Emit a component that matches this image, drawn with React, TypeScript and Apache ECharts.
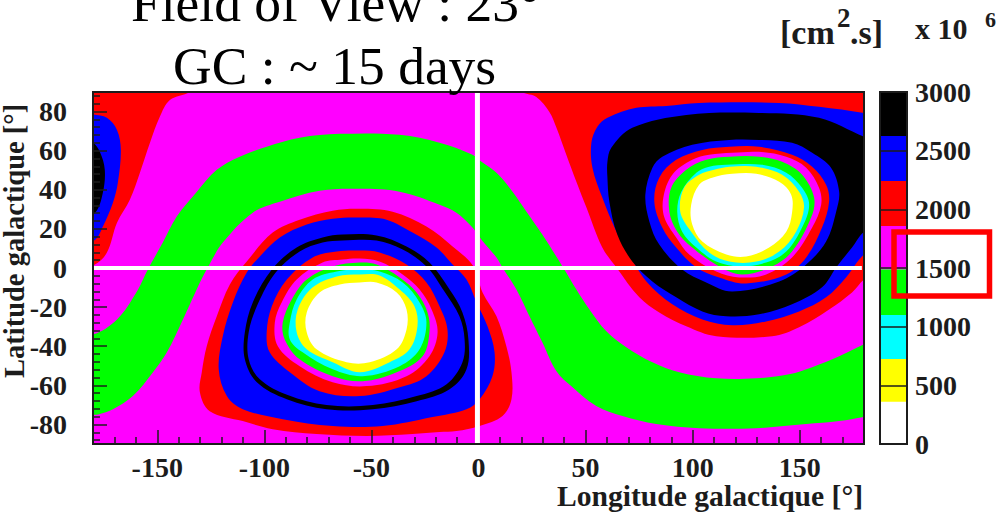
import React, { useEffect, useRef } from "react";
import * as echarts from "echarts";

type P = [number, number];

const MAGENTA = "#ff00ff", GREEN = "#00ff00", RED = "#ff0000", BLUE = "#0000ff";
const BLACK = "#000000", CYAN = "#00ffff", YELLOW = "#ffff00", WHITE = "#ffffff";
const SERIF = "'Liberation Serif'";
const INK = "#1c1c1c";

const lonMajor = [-150, -100, -50, 0, 50, 100, 150];
const lonMinor = [-170, -160, -140, -130, -120, -110, -90, -80, -70, -60, -40, -30, -20, -10, 10, 20, 30, 40, 60, 70, 80, 90, 110, 120, 130, 140, 160, 170];
const latMajor = [-80, -60, -40, -20, 0, 20, 40, 60, 80];
const latMinor = [-88, -84, -76, -72, -68, -64, -56, -52, -48, -44, -36, -32, -28, -24, -16, -12, -8, -4, 4, 8, 12, 16, 24, 28, 32, 36, 44, 48, 52, 56, 64, 68, 72, 76, 84, 88];

const barLevels: [number, number, string][] = [
  [0, 360, WHITE], [360, 724, YELLOW], [724, 1100, CYAN], [1100, 1490, GREEN],
  [1490, 1858, MAGENTA], [1858, 2241, RED], [2241, 2625, BLUE], [2625, 3000, BLACK],
];

const all: P[] = [[-180, -90], [180, -90], [180, 90], [-180, 90]];

const greenBand: P[] = [
  [-186, -31], [-180, -33.9], [-168.8, -26.3], [-159.5, -12], [-154.4, -0.8], [-147.4, 13], [-140.9, 26.3], [-131.5, 39], [-122.2, 50.2], [-111.5, 56.9], [-98.9, 62], [-83.5, 66.6], [-64.8, 68.6], [-36.8, 68.1], [-18.2, 64], [-2.8, 57.9], [1.4, 54.3], [8.4, 48.7], [15.9, 39], [22.4, 28.8], [29.8, 17.1], [39.2, 0.8], [45.7, -11], [51.8, -21.2], [59.7, -32.4], [69, -40.5], [81.2, -48.2], [93.7, -53.3], [111, -56.4], [129.7, -56.4], [145, -54.3], [155.8, -50.7], [168.4, -45.1], [180, -39], [186, -36],
  [186, -75], [180, -76.2], [168.4, -78.3], [153, -79.8], [129.7, -81.9], [103, -81.9], [83, -79.8], [67.2, -75.7], [55, -70.6], [43.8, -60.9], [36.4, -52.8], [29.8, -38], [23.8, -24.7], [17.7, -11], [11.2, 0.3], [8.4, 5.4], [1.4, 14.5], [-2.8, 20.7], [-10.3, 28.3], [-18.2, 32.4], [-36.8, 39], [-55.5, 40.5], [-74.2, 39.5], [-92.8, 33.9], [-105.4, 28.3], [-119.4, 13], [-126.4, 0.3], [-130.1, -7.4], [-138, -26.3], [-145.5, -43.1], [-152, -53.3], [-161.4, -65.5], [-170.7, -72.2], [-176.8, -74.7], [-180, -75.2], [-186, -76],
];

const redTopLeft: P[] = [[-186, 96], [-130, 96], [-134.8, 90], [-144.1, 85.9], [-148.8, 77.3], [-153.4, 64], [-158.1, 48.7], [-162.8, 34.9], [-168.8, 23.2], [-173.5, 7.9], [-179.1, 1.8], [-186, 0]];
const blueTopLeft: P[] = [[-186, 79], [-180, 78.5], [-173.5, 76.8], [-168.8, 70.6], [-167, 60.4], [-168.4, 43.6], [-170.7, 33.4], [-175.4, 21.2], [-179, 14.5], [-186, 13]];
const blackTopLeft: P[] = [[-186, 66], [-180, 64], [-176.8, 59.4], [-174.5, 50.2], [-175.4, 38.5], [-179, 28.3], [-186, 26]];

const redRight: P[] = [[16, 96], [20.5, 90], [27, 87.5], [33.1, 79.8], [36.4, 71.7], [41, 57.9], [45.7, 44.1], [50.4, 30.9], [57.8, 10.5], [64.4, 0.3], [75.1, -15], [84.4, -22.7], [97, -29.8], [111, -34.9], [137.1, -34.9], [149.7, -30.3], [163.7, -21.2], [174.4, -12.5], [180, -5.9], [186, -2], [186, 96]];
const blueRight: P[] = [[52.7, 64], [55.5, 72.2], [60.2, 76.8], [73.7, 81.9], [87.7, 82.9], [103, 84.4], [140.4, 84.4], [159, 82.4], [180, 79.3], [186, 78], [186, 9], [180, 6.9], [171.6, -4.8], [162.3, -15], [149.7, -22.2], [134.3, -27.3], [118.5, -29.3], [104.5, -26.3], [90.5, -18.6], [78.4, -6.9], [70.4, 6.9], [64.4, 18.6], [57.8, 36], [53.2, 51.3]];
const blackRight: P[] = [[60.2, 54.3], [62, 61.5], [71.8, 71.7], [97, 78.3], [131, 79.3], [159, 76.8], [180, 67.1], [186, 65], [186, 21], [180, 18.6], [174.4, 10.5], [167, 0.3], [160.4, -9.9], [146.4, -18.6], [131, -23.7], [115.7, -24.7], [104.5, -22.2], [92.3, -15], [81.2, -6.9], [71.8, 3.3], [64.8, 17.1], [61.1, 33.9], [60.2, 46.2]];
const blueInnerRight: P[] = [[117.1, 65.5], [131, 65.5], [146.4, 64], [155.8, 58.9], [164.6, 51.3], [168.4, 39], [167, 28.8], [162.3, 13.5], [153, 1.8], [140.4, -6.9], [118.5, -12], [106.3, -7.4], [95.1, -0.8], [84.4, 12], [79.8, 23.7], [77.9, 37.5], [81.2, 51.3], [85.8, 56.9], [99.8, 63]];
const redInnerRight: P[] = [[117.1, 62], [131, 62], [146.4, 57.9], [155.8, 51.8], [162.3, 42.6], [163.7, 33.9], [160.4, 20.7], [153, 5.4], [143.7, -3.3], [125, -7.9], [112.4, -4.8], [101.7, 0.3], [92.3, 10.5], [85.8, 20.7], [82.1, 33.9], [84.4, 46.2], [92.3, 55.3], [104.5, 60.4]];
const magentaInnerRight: P[] = [[118.5, 58.9], [131, 59.4], [143.7, 56.9], [153, 51.3], [159, 41], [160, 32.4], [155.8, 20.7], [146.4, 5.4], [134.3, -3.3], [121.7, -4.8], [111, -1.8], [98.4, 6.9], [92.3, 15.6], [86.8, 25.8], [86.3, 36], [90.5, 47.7], [99.8, 55.3], [107.7, 57.9]];
const greenInnerRight: P[] = [[117.1, 56.9], [131, 56.9], [141.8, 54.3], [151.1, 47.7], [156.7, 36], [155.3, 25.8], [146.4, 8.4], [137.1, 0.8], [123.1, -3.3], [112.4, 0.8], [99.8, 10.5], [92.8, 18.6], [89.1, 28.8], [90, 41], [97, 50.2], [106.3, 55.3]];
const cyanRight: P[] = [[115.7, 52.8], [132.5, 52.8], [143.7, 48.7], [151.1, 41], [154.4, 32.4], [151.1, 20.7], [143.7, 8.4], [134.3, 2.8], [121.7, 0.8], [111, 3.3], [101.7, 10.5], [95.1, 18.6], [92.8, 28.8], [94.7, 39], [101.7, 48.7], [107.7, 51.8]];
const yellowRight: P[] = [[117.1, 51.8], [129.7, 51.8], [141.8, 47.7], [149.7, 39], [152, 30.9], [148.3, 18.6], [140.4, 8.4], [129.7, 3.3], [117.1, 3.3], [107.7, 7.9], [99.3, 18.6], [94.2, 28.8], [96, 41], [103, 47.7], [110, 50.2]];
const whiteRight: P[] = [[118.5, 48.2], [129.7, 48.2], [140.4, 44.1], [146, 37.5], [146.4, 28.3], [143.7, 18.6], [135.7, 10.5], [125, 5.9], [115.7, 6.9], [104.5, 13.5], [99.8, 22.2], [99.3, 32.4], [103, 42.6], [109.1, 46.2]];

const redLeft: P[] = [[-55.5, 30.3], [-40.1, 28.8], [-24.3, 21.2], [-12.1, 11], [-2.3, 0.8], [1.9, -12.5], [8.4, -24.7], [13, -40], [15.4, -53.3], [15.4, -67.1], [11.2, -75.7], [0.5, -80.8], [-10.3, -83.4], [-18.2, -83.9], [-30.8, -84.9], [-52.2, -85.9], [-75.6, -84.9], [-96.1, -82.4], [-110.1, -78.3], [-125.5, -73.2], [-130.1, -63.5], [-129.2, -53.3], [-126.9, -40], [-122.2, -24.7], [-116.1, -8.4], [-108.2, 3.3], [-96.1, 18.1], [-83.5, 24.7], [-68.1, 29.3]];
const blueLeft: P[] = [[-55.5, 25.8], [-42.9, 24.7], [-30.8, 18.1], [-19.6, 10.5], [-12.1, 1.8], [-5.6, -5.9], [-0.9, -17.6], [4.2, -29.8], [7.5, -43.1], [6.5, -55.3], [0.5, -67.1], [-5.6, -72.2], [-21.5, -76.2], [-44.8, -80.8], [-68.1, -80.8], [-91.4, -77.3], [-110.1, -72.2], [-117.5, -65.5], [-121.3, -51.8], [-119.4, -34.9], [-114.7, -17.6], [-108.2, -2.3], [-102.1, 5.9], [-92.8, 15.6], [-80.2, 22.2], [-68.1, 25.2]];
const blackRingLeft: P[] = [[-63.4, 17.1], [-47.6, 16.6], [-33.6, 11], [-22.9, 2.8], [-13.5, -11], [-7.5, -22.7], [-4.7, -36.5], [-5.6, -51.8], [-13.5, -62], [-28.9, -68.1], [-49.4, -72.2], [-70.9, -72.2], [-89.5, -67.1], [-103.5, -58.4], [-109.1, -46.7], [-109.1, -32.9], [-105.4, -17.6], [-96.5, -0.8], [-84.9, 10.5], [-72.8, 15.6]];
const blueRingLeft: P[] = [[-63.4, 14], [-47.6, 14], [-35.4, 9.4], [-24.3, 0.8], [-15.9, -12], [-8.9, -24.7], [-6.5, -36.5], [-7.5, -48.2], [-14.9, -59.4], [-28.9, -65.5], [-49.4, -70.1], [-70.9, -70.1], [-89.1, -65], [-102.1, -56.9], [-107.3, -46.7], [-107.3, -32.9], [-103.1, -18.6], [-94.7, -2.3], [-83.5, 8.4], [-72.8, 13]];
const redInnerLeft: P[] = [[-55.5, 8.9], [-46.2, 7.9], [-33.6, 1.8], [-24.3, -7.4], [-18.2, -19.6], [-14.5, -31.4], [-15.9, -43.1], [-24.3, -55.3], [-36.8, -61], [-55.5, -65.5], [-74.2, -63], [-88.1, -53.3], [-97.5, -43.1], [-98.9, -32.9], [-96.5, -19.6], [-89.5, -5.9], [-77.4, 5.4], [-66.2, 8.4]];
const magentaInnerLeft: P[] = [[-55.5, 4.8], [-46.2, 3.3], [-35.4, -3.3], [-27.5, -11], [-21.9, -21.2], [-19.1, -32.9], [-22.9, -45.1], [-33.6, -55.3], [-52.2, -60.4], [-68.1, -58.4], [-83.5, -50.2], [-93.7, -40], [-95.1, -27.8], [-91.9, -17.6], [-84.9, -5.9], [-72.8, 2.8], [-63.4, 4.3]];
const greenInnerLeft: P[] = [[-55.5, 2.8], [-47.6, 1.8], [-36.8, -4.8], [-28.9, -12.5], [-23.8, -22.7], [-22.9, -32.9], [-26.1, -45.1], [-38.2, -53.3], [-54.1, -57.9], [-68.1, -55.3], [-83.5, -46.7], [-90.5, -36.5], [-91.4, -27.8], [-87.2, -16.1], [-80.2, -5.9], [-68.1, 0.8]];
const cyanLeft: P[] = [[-55.5, -0.8], [-46.2, -1.8], [-35.4, -7.4], [-27.5, -17.6], [-24.3, -27.8], [-27.5, -41.6], [-36.8, -50.2], [-54.1, -55.3], [-68.1, -51.8], [-82.1, -43.1], [-88.1, -36.5], [-88.1, -27.8], [-84.9, -16.1], [-77.4, -5.9], [-66.2, -1.8]];
const yellowLeft: P[] = [[-55.5, -3.3], [-46.2, -3.8], [-36.8, -11], [-29.9, -19.6], [-28.5, -29.8], [-32.2, -41.6], [-41.5, -48.2], [-55.5, -53.3], [-68.1, -48.2], [-80.2, -41.6], [-84.9, -32.9], [-84.4, -21.2], [-77.4, -9.9], [-66.2, -4.3]];
const whiteLeft: P[] = [[-55.5, -7.4], [-47.6, -7.4], [-38.2, -12.5], [-33.6, -21.2], [-33.6, -31.4], [-38.2, -41.6], [-50.8, -48.2], [-61.6, -48.2], [-75.6, -41.6], [-80.2, -32.9], [-80.2, -22.7], [-74.2, -12.5], [-64.8, -8.4]];

const regions: [P[], string][] = [
  [all, MAGENTA], [greenBand, GREEN],
  [redTopLeft, RED], [blueTopLeft, BLUE], [blackTopLeft, BLACK],
  [redRight, RED], [blueRight, BLUE], [blackRight, BLACK], [blueInnerRight, BLUE], [redInnerRight, RED], [magentaInnerRight, MAGENTA], [greenInnerRight, GREEN], [cyanRight, CYAN], [yellowRight, YELLOW], [whiteRight, WHITE],
  [redLeft, RED], [blueLeft, BLUE], [blackRingLeft, BLACK], [blueRingLeft, BLUE], [redInnerLeft, RED], [magentaInnerLeft, MAGENTA], [greenInnerLeft, GREEN], [cyanLeft, CYAN], [yellowLeft, YELLOW], [whiteLeft, WHITE],
];

const equator: P[] = [[-180, 0], [179, 0]];
const meridian: P[] = [[-0.5, -90], [-0.5, 90]];

const label = { fontFamily: SERIF, fontWeight: "bold" as const, color: INK };

function txt(text: string, x: number, y: number, size: number, bold = true, extra: any = {}) {
  return {
    type: "text", x, y, z: 50, silent: true, ...extra,
    style: { text, fontFamily: SERIF, fontSize: size, fontWeight: bold ? "bold" : "normal", fill: bold ? INK : "#000" },
  };
}

function buildOption() {
  const tickLine = { color: INK, width: 1.5 };
  const hiddenLine = { show: false, onZero: false };
  const plain = (v: number) => String(v);
  return {
    animation: false,
    backgroundColor: "#fff",
    grid: [
      { left: 93, top: 92, width: 771, height: 352 },
      { left: 880, top: 92, width: 27, height: 352 },
    ],
    xAxis: [
      { type: "value", gridIndex: 0, min: -180, max: 180, position: "bottom", z: 10, axisLine: hiddenLine, splitLine: { show: false },
        axisTick: { show: true, inside: true, length: 14, lineStyle: tickLine, customValues: lonMajor.filter((v) => v !== 0) },
        axisLabel: { ...label, fontSize: 28, margin: 9, customValues: lonMajor, formatter: plain } },
      { type: "value", gridIndex: 0, min: -180, max: 180, position: "bottom", z: 10, axisLine: hiddenLine, splitLine: { show: false },
        axisTick: { show: true, inside: true, length: 7, lineStyle: tickLine, customValues: lonMinor }, axisLabel: { show: false } },
      { type: "value", gridIndex: 1, min: 0, max: 1, show: false },
    ],
    yAxis: [
      { type: "value", gridIndex: 0, min: -90, max: 90, position: "left", z: 10, axisLine: hiddenLine, splitLine: { show: false },
        axisTick: { show: true, inside: true, length: 14, lineStyle: tickLine, customValues: latMajor.filter((v) => v !== 0) },
        axisLabel: { ...label, fontSize: 28, margin: 26, customValues: latMajor, formatter: plain } },
      { type: "value", gridIndex: 0, min: -90, max: 90, position: "left", z: 10, axisLine: hiddenLine, splitLine: { show: false },
        axisTick: { show: true, inside: true, length: 7, lineStyle: tickLine, customValues: latMinor }, axisLabel: { show: false } },
      { type: "value", gridIndex: 1, min: 0, max: 3000, interval: 500, position: "right", z: 10, axisLine: hiddenLine, splitLine: { show: false },
        axisTick: { show: true, inside: true, length: 27, lineStyle: tickLine },
        axisLabel: { ...label, fontSize: 28, margin: 8, formatter: plain } },
    ],
    series: [
      {
        type: "custom", xAxisIndex: 0, yAxisIndex: 0, clip: true, silent: true, z: 1,
        data: regions.map((_, i) => [i]),
        renderItem: (params: any, api: any) => {
          const [points, fill] = regions[params.dataIndex];
          return {
            type: "polygon",
            shape: { points: points.map((p) => api.coord(p)), smooth: points === all ? 0 : 0.35 },
            style: { fill },
          };
        },
      },
      {
        type: "custom", xAxisIndex: 2, yAxisIndex: 2, clip: true, silent: true, z: 1,
        data: barLevels.map((l, i) => [i, l[0], l[1]]),
        renderItem: (params: any, api: any) => {
          const [lo, hi, fill] = barLevels[params.dataIndex];
          const a = api.coord([0, hi]);
          const b = api.coord([1, lo]);
          return { type: "rect", shape: { x: a[0], y: a[1], width: b[0] - a[0], height: b[1] - a[1] }, style: { fill } };
        },
      },
      { type: "line", xAxisIndex: 0, yAxisIndex: 0, data: equator, showSymbol: false, silent: true, z: 3, lineStyle: { color: WHITE, width: 4 } },
      { type: "line", xAxisIndex: 0, yAxisIndex: 0, data: meridian, showSymbol: false, silent: true, z: 3, lineStyle: { color: WHITE, width: 5 } },
    ],
    graphic: [
      { type: "rect", z: 40, silent: true, shape: { x: 93, y: 92, width: 771, height: 352 }, style: { fill: "none", stroke: INK, lineWidth: 2 } },
      { type: "rect", z: 40, silent: true, shape: { x: 880, y: 92, width: 27, height: 352 }, style: { fill: "none", stroke: INK, lineWidth: 2 } },
      { type: "rect", z: 45, silent: true, shape: { x: 894, y: 232, width: 95.5, height: 64 }, style: { fill: "none", stroke: "#ff0000", lineWidth: 5.5 } },
      txt("Field of View : 23°", 131, -24, 53.5, false),
      txt("GC : ~ 15 days", 173, 39, 53.5, false),
      txt("[cm", 780, 15, 34),
      txt("2", 837, 4, 27),
      txt(".s]", 850, 15, 34),
      txt("x 10", 915, 13, 30),
      txt("6", 985, 8, 22),
      txt("Longitude galactique [°]", 557, 481, 29.6),
      txt("Latitude galactique [°]", 0, 378, 28.5, true, { rotation: Math.PI / 2 }),
    ],
  };
}

export default function App() {
  const ref = useRef<HTMLDivElement>(null);
  useEffect(() => {
    document.body.style.margin = "0";
    const chart = echarts.init(ref.current!, undefined, { renderer: "svg" });
    chart.setOption(buildOption() as any);
    return () => chart.dispose();
  }, []);
  return <div ref={ref} style={{ width: 996, height: 518 }} />;
}
